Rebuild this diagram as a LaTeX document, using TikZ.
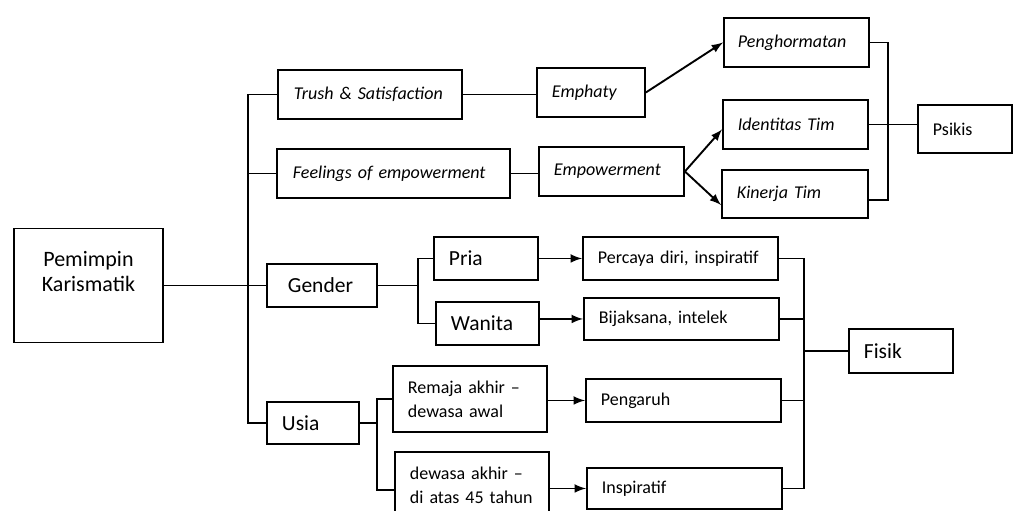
\documentclass[tikz,border=0pt]{standalone}
\usepackage{fontspec}
\setmainfont{Carlito}
\usetikzlibrary{arrows,positioning,calc}

\begin{document}
\begin{tikzpicture}[x=0.5pt,y=-0.5pt,>=latex,line width=0.95pt]
\tikzstyle{blok}=[rectangle, draw, anchor=north west, inner xsep=7.5pt, inner ysep=0pt,
 align=left, font=\fontsize{9}{11}\selectfont]
\tikzstyle{miring}=[blok, font=\fontsize{9}{11}\selectfont\itshape]
\tikzstyle{besar}=[blok, font=\fontsize{10.75}{13}\selectfont]

\useasboundingbox (0,0) rectangle (1013,510);

\node[blok, minimum width=74.5pt, minimum height=57pt] (pk) at (13,227.5) {};
\node[font=\fontsize{11}{12.5}\selectfont, align=center] (pktext) at ([yshift=6.75pt]pk.center) {Pemimpin\\Karismatik};

\node[miring, minimum height=24.5pt, text width=76pt, inner xsep=8pt] (ts) at (277,69) {Trush \& Satisfaction};
\node[miring, minimum height=24.5pt, text width=100.5pt, inner xsep=8pt] (fe) at (276,148) {Feelings of empowerment};
\node[besar, minimum height=21.5pt, text width=34pt, inner xsep=10.5pt] (ge) at (266,263) {Gender};
\node[besar, minimum height=21pt, text width=31pt] (us) at (266,401) {Usia};

\node[miring, minimum height=24.5pt, text width=39pt] (em) at (536,67) {Emphaty};
\node[miring, minimum height=24.5pt, text width=57.5pt] (ep) at (538,146) {Empowerment};
\node[miring, minimum height=24.5pt, text width=58.5pt, inner xsep=7pt] (pg) at (723,17) {Penghormatan};
\node[miring, minimum height=24.5pt, text width=57.5pt] (it) at (722,99) {Identitas Tim};
\node[miring, minimum height=24pt, text width=58pt] (kt) at (721,169) {Kinerja Tim};
\node[blok, minimum height=24pt, text width=32pt] (ps) at (917,104) {Psikis};

\node[besar, minimum height=21.5pt, text width=37pt] (pr) at (433,236) {Pria};
\node[besar, minimum height=21.5pt, text width=36.5pt] (wa) at (435,301) {Wanita};
\node[blok, minimum height=33pt, text width=62pt, font=\fontsize{9}{12}\selectfont] (rm) at (392,365) {Remaja akhir –\\dewasa awal};
\node[blok, minimum height=33pt, text width=62pt, font=\fontsize{9}{12}\selectfont] (da) at (394,451) {dewasa akhir –\\di atas 45 tahun};

\node[blok, minimum height=21.5pt, text width=82.5pt] (pd) at (582,236) {Percaya diri, inspiratif};
\node[blok, minimum height=21pt, text width=82.5pt] (bj) at (583,297) {Bijaksana, intelek};
\node[blok, minimum height=21.5pt, text width=82.5pt] (pe) at (585,378) {Pengaruh};
\node[blok, minimum height=20.5pt, text width=82.5pt] (in) at (586,467) {Inspiratif};
\node[besar, minimum height=22pt, text width=37pt] (fi) at (848,328) {Fisik};

%trunk
\draw (ts.west) -- ++(-29,0) coordinate (tr) |- (us.west);
\draw (fe.west) -- (fe.west -| tr);
\draw (pk) -- (ge);

\draw (ts.east) -- (ts.east -| em.west);
\draw (fe.east) -- (fe.east -| ep.west);

\draw[->] (em.east) -- (pg.west);
\draw[->] (ep.east) -- ([yshift=-2.5pt]it.west);
\draw[->] (ep.east) -- ([yshift=-5.5pt]kt.west);

%psikis
\draw (pg.east) -- ++(18,0) coordinate (pb) |- ([yshift=-3pt]kt.east);
\draw (it.east) -- (it.east -| ps.west);

%gender, usia
\draw (ge.east) -- ++(40,0) coordinate (gb);
\draw (pr.west) -- (pr.west -| gb) |- (wa.west);
\draw (us.east) -- ++(17,0) coordinate (ub);
\draw (rm.west) -- (rm.west -| ub) |- ([yshift=-2.5pt]da.west);

\draw[->] (pr) -- (pd);
\draw[->] (wa.east |- bj.west) -- (bj.west);
\draw[->] (rm.east |- pe.west) -- (pe.west);
\draw[->] (da.east |- in.west) -- (in.west);

%fisik
\draw (pd.east) -- ++(25,0) coordinate (fb) |- (in.east);
\draw (bj.east) -- (bj.east -| fb);
\draw (pe.east) -- (pe.east -| fb);
\draw (fi.west) -- (fi.west -| fb);

\end{tikzpicture}
\end{document}
